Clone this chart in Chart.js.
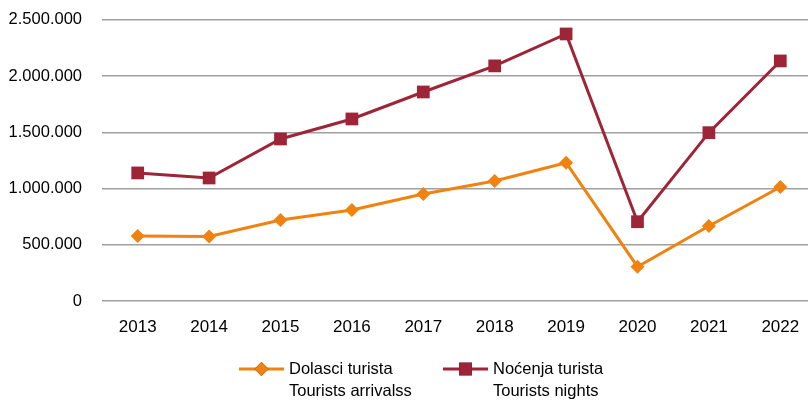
<!DOCTYPE html>
<html>
<head>
<meta charset="utf-8">
<script src="https://cdn.jsdelivr.net/npm/chart.js@4/dist/chart.umd.min.js"></script>
<style>
    html, body { margin: 0; padding: 0; background: #fff; overflow: hidden; }
    #wrap { width: 808px; height: 402px; overflow: hidden; }
    #tourism-chart { display: block; margin-top: -10px; }
</style>
</head>
<body>
<div id="wrap">
    <canvas id="tourism-chart" width="825" height="412"></canvas>
</div>
<script>
var years = ["2013", "2014", "2015", "2016", "2017", "2018", "2019", "2020", "2021", "2022"];
var arrivals = [578000, 574000, 721000, 810000, 952000, 1068000, 1230000, 305000, 667000, 1014000];
var nights = [1139000, 1094000, 1441000, 1619000, 1859000, 2091000, 2375000, 705000, 1497000, 2135000];
var arrivalsLabel = ["Dolasci turista", "Tourists arrivalss"];
var nightsLabel = ["Noćenja turista", "Tourists nights"];

var orange = "#f0820f";
var wine = "#9e2538";
var fontFamily = "'Liberation Sans', Arial, sans-serif";

function formatThousands(value) {
    return String(value).replace(/\B(?=(\d{3})+(?!\d))/g, ".");
}

// two-line legend under the plot, drawn by hand
var bottomLegend = {
    id: "bottomLegend",
    afterDraw: function (chart) {
        var ctx = chart.ctx;
        var entries = [
            { x: 239, ds: chart.data.datasets[0], text: arrivalsLabel },
            { x: 443, ds: chart.data.datasets[1], text: nightsLabel }
        ];
        var y = 379;
        ctx.save();
        entries.forEach(function (entry) {
            ctx.strokeStyle = entry.ds.borderColor;
            ctx.lineWidth = 3;
            ctx.beginPath();
            ctx.moveTo(entry.x, y);
            ctx.lineTo(entry.x + 45, y);
            ctx.stroke();
            Chart.helpers.drawPoint(ctx, {
                pointStyle: entry.ds.pointStyle,
                radius: entry.ds.pointRadius,
                borderWidth: 0
            }, entry.x + 22.5, y);
            ctx.fillStyle = entry.ds.backgroundColor;
            ctx.fill();
            ctx.fillStyle = "#000";
            ctx.font = "16.5px " + fontFamily;
            ctx.textBaseline = "middle";
            ctx.textAlign = "left";
            ctx.fillText(entry.text[0], entry.x + 50, y);
            ctx.fillText(entry.text[1], entry.x + 50, y + 22);
        });
        ctx.restore();
    }
};

new Chart(
    document.getElementById("tourism-chart"),
    {
        type: "line",
        data: {
            labels: years,
            datasets: [
                {
                    label: arrivalsLabel.join(" "),
                    data: arrivals,
                    borderColor: orange,
                    backgroundColor: orange,
                    borderWidth: 3,
                    pointStyle: "rectRot",
                    pointRadius: 7,
                    pointBorderWidth: 0,
                    tension: 0
                },
                {
                    label: nightsLabel.join(" "),
                    data: nights,
                    borderColor: wine,
                    backgroundColor: wine,
                    borderWidth: 3,
                    pointStyle: "rect",
                    pointRadius: 9,
                    pointBorderWidth: 0,
                    tension: 0
                }
            ]
        },
        options: {
            responsive: false,
            animation: false,
            layout: {
                padding: { top: 0, bottom: 61, right: 0, left: 0 }
            },
            scales: {
                x: {
                    offset: true,
                    border: { display: false },
                    grid: { display: false, drawTicks: false },
                    ticks: {
                        padding: 16,
                        color: "#000",
                        font: { family: fontFamily, size: 17 }
                    },
                    afterFit: function (scale) { scale.height = 40; }
                },
                y: {
                    min: 0,
                    max: 2500000,
                    border: { display: false },
                    grid: { color: "#a0a0a0", lineWidth: 1.5, drawTicks: false },
                    ticks: {
                        stepSize: 500000,
                        padding: 20,
                        color: "#000",
                        font: { family: fontFamily, size: 16.5 },
                        callback: function (value) { return formatThousands(value); }
                    },
                    afterFit: function (scale) { scale.width = 102; }
                }
            },
            plugins: {
                legend: { display: false },
                tooltip: { enabled: false }
            }
        },
        plugins: [bottomLegend]
    }
);
</script>
</body>
</html>
